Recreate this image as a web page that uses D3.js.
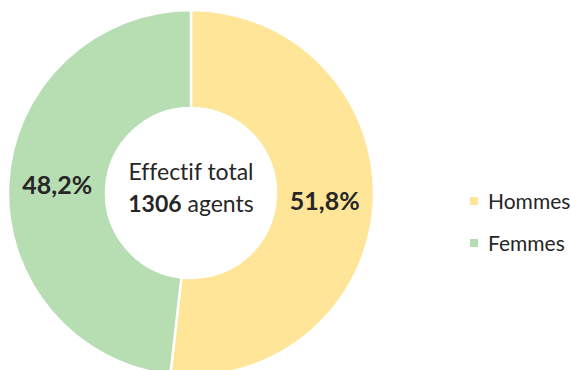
<!DOCTYPE html>
<html>
<head>
<meta charset="utf-8">
<script src="https://cdn.jsdelivr.net/npm/d3@7"></script>
<style>
  body { margin: 0; background: #fff; }
  text { font-family: Lato, "Open Sans", sans-serif; fill: #262626; font-variant-ligatures: none; }
</style>
</head>
<body>
<script>
// donut: effectif par sexe

const categories = ["Hommes", "Femmes"];
const shares = [51.8, 48.2];
const labels = ["51,8%", "48,2%"];
const colors = ["#ffe597", "#b7ddb3"];
const total = 1306;

const width = 571;
const height = 370;
const cx = 191, cy = 193;
const outerR = 183, innerR = 85;

const data = categories.map((c, i) => ({name: c, value: shares[i], label: labels[i]}));

const svg = d3.select("body")
    .append("svg")
        .attr("width", width)
        .attr("height", height);

const g = svg.append("g")
    .attr("transform", "translate(" + cx + "," + cy + ")");

const pie = d3.pie()
    .value(d => d.value)
    .sort(null);

const arc = d3.arc()
    .innerRadius(innerR)
    .outerRadius(outerR);

const labelArc = d3.arc()
    .innerRadius((innerR + outerR) / 2)
    .outerRadius((innerR + outerR) / 2);

const color = d3.scaleOrdinal()
    .domain(categories)
    .range(colors);

const arcs = pie(data);

g.selectAll("path")
    .data(arcs)
    .enter()
    .append("path")
        .attr("d", arc)
        .attr("fill", d => color(d.data.name))
        .attr("stroke", "#fff")
        .attr("stroke-width", 2.5);

g.selectAll(".pct")
    .data(arcs)
    .enter()
    .append("text")
        .attr("class", "pct")
        .attr("transform", d => "translate(" + labelArc.centroid(d) + ")")
        .attr("text-anchor", "middle")
        .attr("dy", "0.36em")
        .attr("font-size", "25px")
        .attr("font-weight", "bold")
        .text(d => d.data.label);

// texte central
g.append("text")
    .attr("text-anchor", "middle")
    .attr("y", -13)
    .attr("font-size", "23px")
    .text("Effectif total");

const t2 = g.append("text")
    .attr("text-anchor", "middle")
    .attr("y", 19)
    .attr("font-size", "23px");
t2.append("tspan").attr("font-weight", "bold").text(total);
t2.append("tspan").text(" agents");

// légende
const legend = svg.append("g")
    .attr("transform", "translate(470, 201)");

const item = legend.selectAll("g")
    .data(categories)
    .enter()
    .append("g")
        .attr("transform", (d, i) => "translate(0," + (i * 42) + ")");

item.append("rect")
    .attr("x", 0)
    .attr("y", -4)
    .attr("width", 8)
    .attr("height", 8)
    .attr("fill", d => color(d));

item.append("text")
    .attr("x", 18)
    .attr("dy", "0.36em")
    .attr("font-size", "21px")
    .text(d => d);
</script>
</body>
</html>
